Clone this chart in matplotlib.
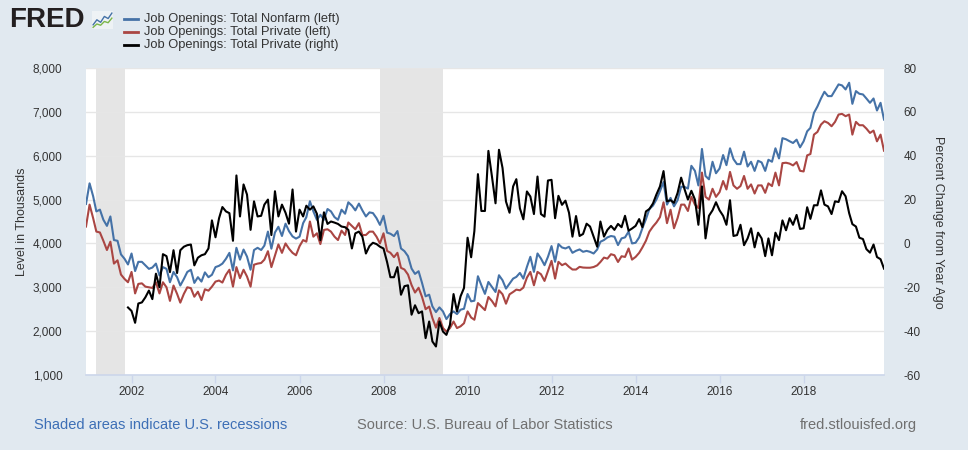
import numpy as np
import pandas as pd
import matplotlib
matplotlib.use("Agg")
import matplotlib.pyplot as plt
import matplotlib.dates as mdates
from matplotlib.lines import Line2D
from matplotlib.ticker import FuncFormatter, MultipleLocator

plt.rcParams["font.family"] = ["Liberation Sans", "DejaVu Sans"]
plt.rcParams["axes.unicode_minus"] = False

# ---------------------------------------------------------------------------
# Data (monthly, Dec 2000 .. Dec 2019)
# ---------------------------------------------------------------------------
START = "2000-12-01"

# Job Openings: Total Nonfarm, thousands (left axis)
nonfarm = [
    4900, 5370, 5077, 4730, 4770, 4540, 4400, 4615, 4077, 4060, 3750, 3650,
    3520, 3770, 3370, 3580, 3580, 3500, 3420, 3450, 3540, 3270, 3460, 3420,
    3115, 3350, 3230, 3040, 3190, 3350, 3400, 3100, 3230, 3130, 3340, 3230,
    3285, 3460, 3490, 3540, 3650, 3785, 3385, 3900, 3630, 3860, 3700, 3400,
    3850, 3900, 3850, 3950, 4270, 3880, 4250, 4380, 4170, 4450, 4280, 4160,
    4110, 4154, 4462, 4600, 4962, 4731, 4538, 4654, 4538, 4785, 4731, 4600,
    4538, 4769, 4677, 4938, 4862, 4754, 4908, 4754, 4615, 4708, 4692, 4577,
    4423, 4631, 4246, 4221, 4168, 4282, 3885, 3824, 3710, 3427, 3305, 3366,
    3099, 2794, 2832, 2565, 2435, 2542, 2450, 2275, 2389, 2450, 2389, 2489,
    2511, 2847, 2679, 2694, 3252, 3046, 2850, 3122, 3008, 2893, 3275, 3160,
    2970, 3084, 3198, 3237, 3328, 3198, 3466, 3695, 3351, 3771, 3656, 3504,
    3695, 3939, 3580, 3985, 3908, 3885, 3924, 3786, 3832, 3863, 3809, 3830,
    3808, 3770, 3862, 4038, 4077, 4138, 4169, 4154, 3962, 4115, 4138, 4269,
    4000, 4015, 4138, 4346, 4554, 4785, 4862, 5000, 5192, 5400, 4885, 5038,
    4846, 4985, 5292, 5292, 5250, 5770, 5654, 5323, 6154, 5538, 5462, 5862,
    5600, 5708, 6015, 5785, 6169, 5923, 5808, 5808, 6092, 5754, 5862, 5654,
    5885, 5846, 5654, 5908, 5862, 6169, 5938, 6400, 6375, 6330, 6290, 6366,
    6191, 6328, 6557, 6634, 6977, 7122, 7305, 7458, 7359, 7359, 7489, 7626,
    7603, 7511, 7664, 7183, 7473, 7412, 7397, 7305, 7206, 7305, 7031, 7206,
    6824,
]

# Job Openings: Total Private, thousands (left axis)
private = [
    4385, 4885, 4577, 4270, 4250, 4060, 3850, 4040, 3540, 3615, 3290, 3190,
    3115, 3350, 2860, 3077, 3090, 3015, 3000, 2985, 3115, 2860, 3115, 3000,
    2690, 3040, 2850, 2650, 2850, 3000, 2980, 2785, 2900, 2708, 2954, 2923,
    3015, 3130, 3154, 3108, 3285, 3400, 3015, 3460, 3208, 3400, 3246, 3015,
    3515, 3540, 3554, 3630, 3823, 3460, 3723, 3977, 3785, 4000, 3880, 3785,
    3730, 3938, 4077, 4040, 4500, 4154, 4231, 3985, 4308, 4323, 4269, 4154,
    4077, 4292, 4192, 4477, 4400, 4323, 4462, 4192, 4192, 4269, 4269, 4154,
    4000, 4231, 3830, 3786, 3687, 3786, 3443, 3405, 3290, 3050, 2880, 2990,
    2780, 2500, 2560, 2300, 2080, 2300, 2070, 1990, 2070, 2220, 2070, 2110,
    2180, 2450, 2310, 2260, 2640, 2560, 2480, 2779, 2687, 2565, 2931, 2840,
    2626, 2840, 2893, 2947, 2931, 2992, 3221, 3351, 3046, 3351, 3298, 3145,
    3374, 3603, 3198, 3580, 3504, 3542, 3466, 3405, 3405, 3466, 3450, 3446,
    3446, 3462, 3500, 3577, 3677, 3654, 3754, 3731, 3577, 3708, 3692, 3885,
    3631, 3692, 3785, 3908, 4062, 4269, 4385, 4477, 4600, 4938, 4462, 4769,
    4346, 4577, 4885, 4885, 4740, 5062, 4885, 4808, 5615, 5062, 5000, 5246,
    5062, 5169, 5423, 5231, 5631, 5323, 5246, 5308, 5538, 5246, 5346, 5138,
    5323, 5323, 5154, 5369, 5308, 5615, 5323, 5831, 5840, 5820, 5779, 5855,
    5656, 5641, 6008, 6038, 6481, 6542, 6710, 6786, 6748, 6672, 6771, 6939,
    6954, 6901, 6939, 6481, 6771, 6695, 6695, 6618, 6519, 6573, 6328, 6481,
    6114,
]

# Job Openings: Total Private, percent change from year ago (right axis),
# first value is Dec 2001
private_pch = [
    -29.2, -30.8, -36.2, -27.4, -26.9, -24.6, -21.5, -25.4, -13.8, -20.0, -4.9, -5.8,
    -13.1, -3.1, -13.5, -3.1, -1.5, -0.8, -0.5, -10.0, -6.5, -5.4, -4.9, -2.3,
    10.5, 2.8, 11.5, 16.6, 14.6, 13.8, 1.2, 31.0, 12.3, 26.9, 22.3, 6.2,
    19.2, 12.3, 12.6, 17.7, 20.0, 3.8, 23.8, 12.3, 17.7, 14.0, 9.0, 24.6,
    5.4, 15.4, 12.3, 17.2, 15.4, 16.9, 13.5, 1.5, 14.2, 8.9, 10.0, 9.5,
    8.9, 7.7, 7.4, 6.2, -2.3, 4.6, 5.4, 3.1, -4.6, -1.2, 0.3, -0.3,
    -1.5, -2.3, -8.5, -15.4, -15.4, -10.8, -23.4, -19.5, -19.1, -32.5, -28.2, -31.8,
    -31.0, -43.2, -35.6, -44.7, -47.0, -35.6, -40.2, -41.7, -37.1, -23.1, -31.0, -24.1,
    -20.3, 2.6, -6.3, 5.6, 31.6, 14.8, 14.8, 42.2, 30.5, 18.3, 42.7, 34.4,
    19.1, 14.0, 26.0, 29.3, 16.0, 11.0, 23.7, 21.4, 13.4, 30.5, 13.4, 12.2,
    28.7, 29.0, 11.5, 21.7, 17.6, 19.5, 14.0, 3.1, 12.5, 3.4, 4.3, 9.0,
    7.7, 3.1, -1.5, 10.0, 3.1, 6.2, 8.0, 6.2, 8.9, 7.4, 12.6, 5.8,
    6.8, 8.0, 11.1, 7.4, 14.6, 15.7, 18.2, 22.3, 26.0, 33.0, 19.2, 19.7,
    18.5, 23.0, 30.0, 25.0, 20.0, 24.0, 20.0, 8.5, 26.0, 2.3, 12.6, 15.1,
    18.8, 15.1, 12.6, 8.5, 19.7, 3.4, 3.8, 8.5, -0.8, 2.3, 6.9, -1.8,
    4.9, 2.3, -5.8, 2.3, -5.4, 4.9, 1.5, 10.5, 6.0, 11.5, 8.5, 13.0,
    6.6, 6.9, 16.5, 11.2, 17.4, 17.4, 24.2, 17.7, 16.9, 13.4, 19.2, 18.9,
    23.8, 21.5, 13.8, 8.8, 7.7, 2.6, 2.0, -2.6, -4.2, -0.5, -6.2, -7.2,
    -11.5,
]

recessions = [("2001-03-01", "2001-11-01"), ("2007-12-01", "2009-06-01")]
legend_labels = [
    "Job Openings: Total Nonfarm (left)",
    "Job Openings: Total Private (left)",
    "Job Openings: Total Private (right)",
]

# ---------------------------------------------------------------------------
# Styling
# ---------------------------------------------------------------------------
BG = "#e1e9f0"
BLUE = "#4572a7"
RED = "#aa4643"
BLACK = "#000000"
TXT = "#333333"

dates = pd.date_range(START, periods=len(nonfarm), freq="MS")
pch = np.concatenate([np.full(len(nonfarm) - len(private_pch), np.nan), private_pch])

fig = plt.figure(figsize=(9.68, 4.5), dpi=100, facecolor=BG)
ax = fig.add_axes([86 / 968, 75 / 450, 798 / 968, 307 / 450])
ax.set_facecolor("white")

for a, b in recessions:
    ax.axvspan(pd.Timestamp(a), pd.Timestamp(b), color="#e5e5e5", lw=0, zorder=0)

ax.plot(dates, nonfarm, color=BLUE, lw=1.5, zorder=3)
ax.plot(dates, private, color=RED, lw=1.5, zorder=3)

ax.set_xlim(dates[0], dates[-1])
ax.set_ylim(1000, 8000)
ax.yaxis.set_major_locator(MultipleLocator(1000))
ax.yaxis.set_major_formatter(FuncFormatter(lambda v, p: f"{int(v):,}"))
ax.grid(axis="y", color="#e6e6e6", lw=1)
ax.set_axisbelow(True)

ax.xaxis.set_major_locator(mdates.YearLocator(2, month=1, day=1))
ax.xaxis.set_major_formatter(mdates.DateFormatter("%Y"))

for s in ["top", "left", "right"]:
    ax.spines[s].set_visible(False)
ax.spines["bottom"].set_color("#ccd6eb")
ax.spines["bottom"].set_linewidth(1.2)
ax.tick_params(axis="x", colors="#ccd6eb", length=6, width=1, labelcolor=TXT,
               labelsize=8.5, pad=2)
ax.tick_params(axis="y", length=0, labelcolor=TXT, labelsize=8.5, pad=17)

ax2 = ax.twinx()
ax2.plot(dates, pch, color=BLACK, lw=1.5, zorder=4)
ax2.set_ylim(-60, 80)
ax2.yaxis.set_major_locator(MultipleLocator(20))
for s in ["top", "left", "right", "bottom"]:
    ax2.spines[s].set_visible(False)
ax2.tick_params(axis="y", length=0, labelcolor=TXT, labelsize=8.5, pad=14)

fig.text(22 / 968, 1 - 222 / 450, "Level in Thousands", rotation=90,
         ha="center", va="center", fontsize=9, color=TXT)
fig.text(938 / 968, 1 - 222 / 450, "Percent Change from Year Ago", rotation=270,
         ha="center", va="center", fontsize=9, color=TXT)

# FRED logo
fig.text(9 / 968, 1 - 20 / 450, "FRED", fontsize=20, fontweight="bold",
         color="#231f20", ha="left", va="center")
icon = fig.add_axes([92 / 968, 1 - 29 / 450, 21 / 968, 18 / 450])
icon.set_facecolor("#eef2f5")
icon.plot([0, 1, 2, 3, 4, 5], [1, 2.2, 1.6, 3.0, 2.5, 3.8], color="#4572a7", lw=1)
icon.plot([0, 1, 2, 3, 4, 5], [0.4, 1.2, 0.9, 1.8, 1.5, 2.6], color="#7ab648", lw=1)
icon.set_xlim(-0.3, 5.3)
icon.set_ylim(0, 4.3)
icon.set_xticks([])
icon.set_yticks([])
for s in icon.spines.values():
    s.set_visible(False)

# legend
for k, (lab, col) in enumerate(zip(legend_labels, [BLUE, RED, BLACK])):
    y = 1 - (19 + 13 * k) / 450
    fig.add_artist(Line2D([124 / 968, 138 / 968], [y, y], color=col, lw=2,
                          transform=fig.transFigure))
    fig.text(144 / 968, y, lab, fontsize=9.3, color=TXT, ha="left", va="center")

# footer
fig.text(34 / 968, 1 - 425 / 450, "Shaded areas indicate U.S. recessions",
         fontsize=10.5, color="#3d6fb6", ha="left", va="center")
fig.text(357 / 968, 1 - 425 / 450, "Source: U.S. Bureau of Labor Statistics",
         fontsize=10.5, color="#707070", ha="left", va="center")
fig.text(917 / 968, 1 - 425 / 450, "fred.stlouisfed.org",
         fontsize=10.5, color="#707070", ha="right", va="center")

fig.savefig("out.png", dpi=100, facecolor=BG)
